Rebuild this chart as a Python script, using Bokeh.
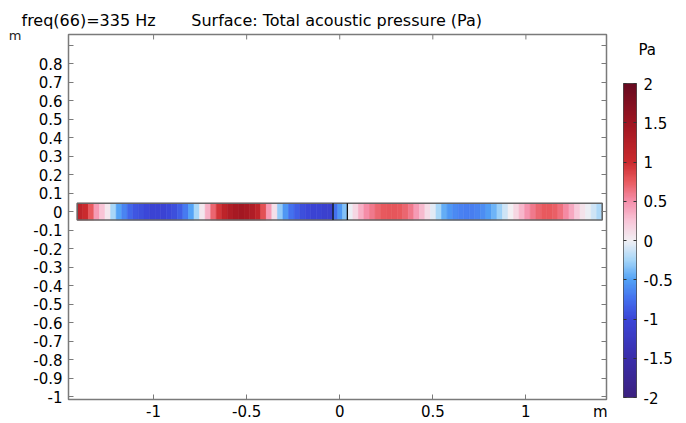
import numpy as np
from bokeh.plotting import figure
from bokeh.models import (ColumnDataSource, LinearColorMapper, LinearAxis, FixedTicker,
                          CustomJSTickFormatter, Range1d)
from bokeh.layouts import row
from bokeh.embed import file_html
from bokeh.resources import INLINE

# ---------------- data ----------------
title_freq = "freq(66)=335 Hz"
title_expr = "Surface: Total acoustic pressure (Pa)"
unit_len = "m"
unit_p = "Pa"

# tube sections (m)
left_section = (-1.41, -0.036)
mid_section = (-0.036, 0.041)
right_section = (0.041, 1.41)
tube_half_height = 0.045

# total acoustic pressure (Pa) along the tube
p_left = [1.15, 1.0, 0.75, 0.45, 0.25, 0.05, -0.25, -0.5, -0.65, -0.8,
          -0.9, -0.95, -1.0, -1.05, -1.05, -1.05, -1.0, -0.95, -0.85, -0.7,
          -0.5, -0.25, 0.05, 0.35, 0.7, 0.95, 1.15, 1.3, 1.4, 1.45,
          1.4, 1.3, 1.15, 0.8, 0.45, 0.1, -0.3, -0.55, -0.75, -0.85,
          -0.95, -1.0, -1.05, -1.05, -1.1, -1.1]
p_mid = [-0.75, -0.55, -0.35]
p_right = [-0.02, 0.15, 0.35, 0.5, 0.6, 0.7, 0.75, 0.78, 0.78, 0.75,
           0.7, 0.6, 0.45, 0.3, 0.12, -0.05, -0.25, -0.45, -0.55, -0.62,
           -0.66, -0.68, -0.68, -0.65, -0.6, -0.52, -0.42, -0.28, -0.12, 0.0,
           0.15, 0.32, 0.48, 0.6, 0.7, 0.75, 0.76, 0.72, 0.65, 0.52,
           0.38, 0.22, 0.08, -0.02, -0.12, -0.22]

x_ticks = [-1.0, -0.5, 0.0, 0.5, 1.0]
x_labels = ["-1", "-0.5", "0", "0.5", "1"]
x_unit_pos = 1.40
y_ticks = [-1.0, -0.9, -0.8, -0.7, -0.6, -0.5, -0.4, -0.3, -0.2, -0.1, 0.0,
           0.1, 0.2, 0.3, 0.4, 0.5, 0.6, 0.7, 0.8, 0.9]
y_labels = ["-1", "-0.9", "-0.8", "-0.7", "-0.6", "-0.5", "-0.4", "-0.3", "-0.2", "-0.1", "0",
            "0.1", "0.2", "0.3", "0.4", "0.5", "0.6", "0.7", "0.8", ""]
y_unit_pos = 0.955
cb_ticks = [-2.0, -1.5, -1.0, -0.5, 0.0, 0.5, 1.0, 1.5, 2.0]
cb_labels = ["-2", "-1.5", "-1", "-0.5", "0", "0.5", "1", "1.5", "2"]
p_low, p_high = -2.0, 2.0

# "Wave"-like colour table anchors
cmap_pos = [-2.0, -1.5, -1.0, -0.75, -0.5, -0.25, 0.0, 0.25, 0.5, 0.75, 1.0, 1.5, 2.0]
cmap_hex = ["#3b2180", "#3a2eab", "#3b46d8", "#4470ee", "#52a2f6", "#a6d6f8", "#f2f0f4",
            "#f8c6d8", "#f58fab", "#e95b60", "#cb2a2e", "#9e1521", "#670a20"]

# ---------------- palette ----------------
def hex2rgb(h):
    return [int(h[i:i + 2], 16) for i in (1, 3, 5)]

rgb = np.array([hex2rgb(h) for h in cmap_hex], dtype=float)
vals = np.linspace(p_low, p_high, 256)
palette = []
for v in vals:
    r = np.interp(v, cmap_pos, rgb[:, 0])
    g = np.interp(v, cmap_pos, rgb[:, 1])
    b = np.interp(v, cmap_pos, rgb[:, 2])
    palette.append("#%02x%02x%02x" % (int(round(r)), int(round(g)), int(round(b))))
mapper = LinearColorMapper(palette=palette, low=p_low, high=p_high)

# ---------------- cells ----------------
L, R, P = [], [], []
for (a, b), pv in ((left_section, p_left), (mid_section, p_mid), (right_section, p_right)):
    e = np.linspace(a, b, len(pv) + 1)
    L += list(e[:-1]); R += list(e[1:]); P += list(pv)
src = ColumnDataSource(dict(l=L, r=R, t=[tube_half_height] * len(P),
                            b=[-tube_half_height] * len(P), p=P))

FONT = "DejaVu Sans"
FRAME = "#7a7a7a"

def lookup_fmt(tv, tl):
    return CustomJSTickFormatter(args=dict(tvals=tv, tlabs=tl), code="""
        for (let i = 0; i < tvals.length; i++) {
            if (Math.abs(tvals[i] - tick) < 1e-6) return tlabs[i];
        }
        return "";
    """)

def style_axis(ax, show_labels, standoff, size="15px"):
    ax.axis_line_color = None
    ax.major_tick_in = 5
    ax.major_tick_out = 0
    ax.minor_tick_line_color = None
    ax.major_tick_line_color = FRAME
    ax.major_tick_line_width = 1
    ax.major_label_text_font = FONT
    ax.major_label_text_color = "#000000"
    ax.major_label_standoff = standoff
    ax.major_label_text_font_size = size if show_labels else "0px"

# ---------------- main plot ----------------
Y_LO, Y_HI = -1.016, 0.958
FRAME_H = 368
p = figure(width=612, height=423, x_range=Range1d(-1.457, 1.433), y_range=Range1d(Y_LO, Y_HI),
           output_backend="svg", toolbar_location=None,
           min_border_left=68, min_border_right=6, min_border_top=34, min_border_bottom=18)
try:
    p.frame_align = False
except Exception:
    pass
p.grid.visible = False
p.outline_line_color = FRAME
p.outline_line_width = 1.5

p.title.text = title_freq + "\u00a0" * 7 + title_expr
p.title.text_font = FONT
p.title.text_font_size = "16px"
p.title.text_font_style = "normal"
p.title.text_color = "#000000"
p.title.align = "left"
p.title.offset = -47

p.quad(left="l", right="r", top="t", bottom="b", source=src,
       fill_color={"field": "p", "transform": mapper},
       line_color={"field": "p", "transform": mapper}, line_width=0.6)
p.quad(left=[left_section[0]], right=[right_section[1]], top=[tube_half_height],
       bottom=[-tube_half_height], fill_color=None, line_color="#666666", line_width=1.6)
p.segment(x0=[mid_section[0], mid_section[1]], y0=[-tube_half_height] * 2,
          x1=[mid_section[0], mid_section[1]], y1=[tube_half_height] * 2,
          line_color="#111111", line_width=1.3)

# inward tick marks along the top edge, at the x tick values
tick_len = 5 * (Y_HI - Y_LO) / FRAME_H
p.segment(x0=x_ticks, y0=[Y_HI] * len(x_ticks), x1=x_ticks, y1=[Y_HI - tick_len] * len(x_ticks),
          line_color=FRAME, line_width=1)

# bottom axis: labels incl. unit "m"; tick marks through minor ticks at the numeric ticks
xa = p.xaxis[0]
xa.ticker = FixedTicker(ticks=x_ticks + [x_unit_pos], minor_ticks=x_ticks)
xa.formatter = lookup_fmt(x_ticks + [x_unit_pos], x_labels + [unit_len])
style_axis(xa, True, 3)
xa.major_tick_line_color = None
xa.minor_tick_line_color = FRAME
xa.minor_tick_in = 5
xa.minor_tick_out = 0

ya = p.yaxis[0]
ya.ticker = FixedTicker(ticks=y_ticks)
ya.formatter = lookup_fmt(y_ticks, y_labels)
style_axis(ya, True, 6)

# unit "m" of the y axis, far left at the top
y_unit_ax = LinearAxis(ticker=FixedTicker(ticks=[y_unit_pos]),
                       formatter=lookup_fmt([y_unit_pos], [unit_len]))
style_axis(y_unit_ax, True, 9, "13px")
y_unit_ax.major_tick_in = 0
y_unit_ax.major_label_text_color = "#222222"
p.add_layout(y_unit_ax, "left")

right_ax = LinearAxis(ticker=FixedTicker(ticks=y_ticks), formatter=lookup_fmt([], []))
style_axis(right_ax, False, 0)
p.add_layout(right_ax, "right")

# ---------------- colour bar ----------------
c = figure(width=74, height=423, x_range=Range1d(0, 1), y_range=Range1d(p_low, p_high),
           output_backend="svg", toolbar_location=None, x_axis_location=None,
           y_axis_location="right",
           min_border_left=11, min_border_right=50, min_border_top=83, min_border_bottom=26)
try:
    c.frame_align = False
except Exception:
    pass
c.grid.visible = False
c.outline_line_color = "#4d4d4d"
c.outline_line_width = 1
grad = np.linspace(p_low, p_high, 256).reshape(256, 1)
c.image(image=[grad], x=0, y=p_low, dw=1, dh=p_high - p_low, color_mapper=mapper)

c.title.text = unit_p
c.title.text_font = FONT
c.title.text_font_size = "15px"
c.title.text_font_style = "normal"
c.title.text_color = "#000000"
c.title.align = "left"
c.title.offset = 15
try:
    c.title.standoff = 50
except Exception:
    pass

cya = c.yaxis[0]
cya.ticker = FixedTicker(ticks=cb_ticks)
cya.formatter = lookup_fmt(cb_ticks, cb_labels)
style_axis(cya, True, 7)
cya.major_tick_in = 3
cya.major_tick_line_color = "#333333"
cl = LinearAxis(ticker=FixedTicker(ticks=cb_ticks), formatter=lookup_fmt([], []))
style_axis(cl, False, 0)
cl.major_tick_in = 3
cl.major_tick_line_color = "#333333"
c.add_layout(cl, "left")

layout = row(p, c)
open("out.html", "w").write(file_html(layout, INLINE))
